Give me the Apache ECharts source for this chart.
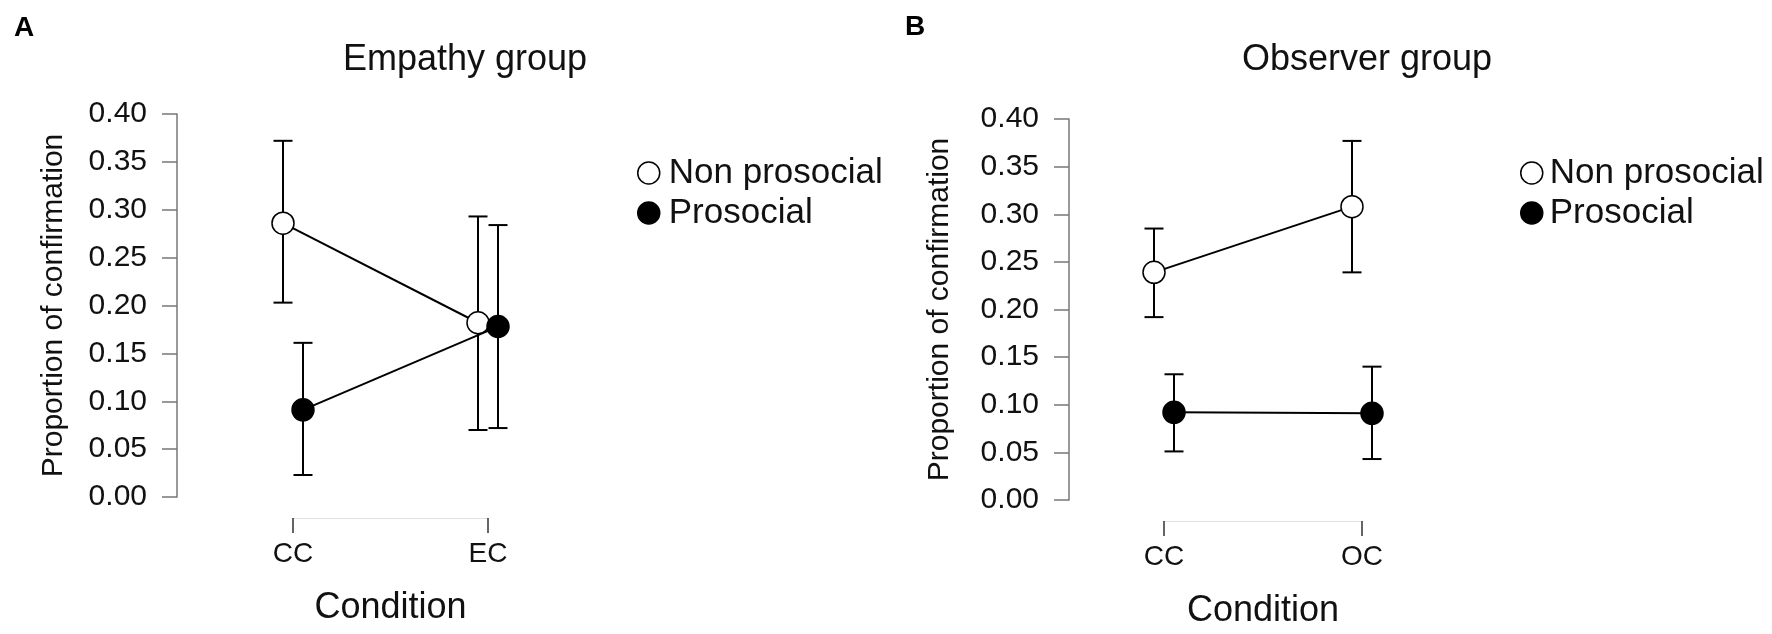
<!DOCTYPE html>
<html>
<head>
<meta charset="utf-8">
<title>Proportion of confirmation</title>
<script src="https://cdn.jsdelivr.net/npm/echarts@6/dist/echarts.min.js"></script>
<style>
  html, body { margin: 0; padding: 0; background: #fff; }
  #chart { width: 1772px; height: 634px; }
</style>
</head>
<body>
<div id="chart"></div>
<script>
// conditions on each panel
const empathyConditions = ['CC', 'EC'];
const observerConditions = ['CC', 'OC'];

// empathy group (panel A)
const empathyNonMean = [0.286, 0.182];
const empathyNonLow = [0.203, 0.070];
const empathyNonHigh = [0.372, 0.293];
const empathyProMean = [0.091, 0.178];
const empathyProLow = [0.023, 0.072];
const empathyProHigh = [0.161, 0.284];

// observer group (panel B)
const observerNonMean = [0.239, 0.308];
const observerNonLow = [0.192, 0.239];
const observerNonHigh = [0.285, 0.377];
const observerProMean = [0.092, 0.091];
const observerProLow = [0.051, 0.043];
const observerProHigh = [0.132, 0.140];

const yMin = 0;
const yMax = 0.4;
const yStep = 0.05;

const FONT = "'Liberation Sans', Arial, sans-serif";

function build(mean, low, high) {
  return mean.map((m, i) => [i, m, low[i], high[i]]);
}

// draws error bar, connecting segment and the point, dodged a few px sideways
function makeRender(dodge, filled, means) {
  return function (params, api) {
    const i = params.dataIndex;
    const x = api.value(0);
    const p = api.coord([x, api.value(1)]);
    const lo = api.coord([x, api.value(2)]);
    const hi = api.coord([x, api.value(3)]);
    const cx = p[0] + dodge;
    const cap = 9.5;
    const stroke = { stroke: '#000', lineWidth: 2 };
    const children = [];
    if (i < means.length - 1) {
      const q = api.coord([i + 1, means[i + 1]]);
      children.push({ type: 'line', z2: 1, shape: { x1: cx, y1: p[1], x2: q[0] + dodge, y2: q[1] }, style: stroke });
    }
    children.push({ type: 'line', z2: 1, shape: { x1: cx, y1: lo[1], x2: cx, y2: hi[1] }, style: stroke });
    children.push({ type: 'line', z2: 1, shape: { x1: cx - cap, y1: lo[1], x2: cx + cap, y2: lo[1] }, style: stroke });
    children.push({ type: 'line', z2: 1, shape: { x1: cx - cap, y1: hi[1], x2: cx + cap, y2: hi[1] }, style: stroke });
    children.push({
      type: 'circle', z2: 10,
      shape: { cx: cx, cy: p[1], r: 11 },
      style: { fill: filled ? '#000' : '#fff', stroke: '#000', lineWidth: 1.5 }
    });
    return { type: 'group', children: children };
  };
}

function xAxisFor(cats, gridIndex) {
  return {
    type: 'category',
    gridIndex: gridIndex,
    data: cats,
    boundaryGap: false,
    offset: 21,
    axisLine: { onZero: false, lineStyle: { color: '#e0e0e0', width: 1 } },
    axisTick: { length: 15, lineStyle: { color: '#333', width: 1.5 } },
    axisLabel: { interval: 0, margin: 22, color: '#111', fontSize: 28, fontFamily: FONT },
    name: 'Condition',
    nameLocation: 'middle',
    nameGap: 72,
    nameTextStyle: { color: '#111', fontSize: 36, fontFamily: FONT },
    splitLine: { show: false }
  };
}

function yAxisFor(gridIndex, offset, nameGap) {
  return {
    type: 'value',
    gridIndex: gridIndex,
    min: yMin,
    max: yMax,
    interval: yStep,
    offset: offset,
    axisLine: { show: true, lineStyle: { color: '#777', width: 1.5 } },
    axisTick: { show: true, length: 15, lineStyle: { color: '#777', width: 1.5 } },
    axisLabel: { margin: 30, color: '#111', fontSize: 30, fontFamily: FONT, formatter: v => v.toFixed(2) },
    splitLine: { show: false },
    name: 'Proportion of confirmation',
    nameLocation: 'middle',
    nameRotate: 90,
    nameGap: nameGap,
    nameTextStyle: { color: '#111', fontSize: 30, fontFamily: FONT }
  };
}

function legendFor(left, top, textPad) {
  return {
    left: left,
    top: top,
    orient: 'vertical',
    itemWidth: 22,
    itemHeight: 22,
    itemGap: 4,
    selectedMode: false,
    textStyle: { color: '#111', fontSize: 35, lineHeight: 36, fontFamily: FONT, padding: [0, 0, 0, textPad] },
    data: [
      { name: 'Non prosocial', icon: 'circle', itemStyle: { color: '#fff', borderColor: '#000', borderWidth: 1.5 } },
      { name: 'Prosocial', icon: 'circle', itemStyle: { color: '#000', borderColor: '#000', borderWidth: 1.5 } }
    ]
  };
}

const chart = echarts.init(document.getElementById('chart'));

chart.setOption({
  backgroundColor: '#fff',
  animation: false,
  grid: [
    { left: 293, top: 114, width: 195, height: 383 },
    { left: 1164, top: 119, width: 198, height: 383 }
  ],
  xAxis: [xAxisFor(empathyConditions, 0), xAxisFor(observerConditions, 1)],
  yAxis: [yAxisFor(0, 116, 108), yAxisFor(1, 95, 114)],
  legend: [legendFor(632, 150, 4), legendFor(1515, 150, 2)],
  graphic: [
    { type: 'text', x: 24, y: 28, style: { text: 'A', font: "bold 28px " + FONT, fill: '#000', textAlign: 'center', textVerticalAlign: 'middle' } },
    { type: 'text', x: 915, y: 27, style: { text: 'B', font: "bold 28px " + FONT, fill: '#000', textAlign: 'center', textVerticalAlign: 'middle' } },
    { type: 'text', x: 465, y: 60, style: { text: 'Empathy group', font: "36px " + FONT, fill: '#111', textAlign: 'center', textVerticalAlign: 'middle' } },
    { type: 'text', x: 1367, y: 60, style: { text: 'Observer group', font: "36px " + FONT, fill: '#111', textAlign: 'center', textVerticalAlign: 'middle' } }
  ],
  series: [
    {
      type: 'custom', name: 'Non prosocial', xAxisIndex: 0, yAxisIndex: 0,
      data: build(empathyNonMean, empathyNonLow, empathyNonHigh),
      encode: { x: 0, y: 1 },
      renderItem: makeRender(-10, false, empathyNonMean)
    },
    {
      type: 'custom', name: 'Prosocial', xAxisIndex: 0, yAxisIndex: 0,
      data: build(empathyProMean, empathyProLow, empathyProHigh),
      encode: { x: 0, y: 1 },
      renderItem: makeRender(10, true, empathyProMean)
    },
    {
      type: 'custom', name: 'Non prosocial', xAxisIndex: 1, yAxisIndex: 1,
      data: build(observerNonMean, observerNonLow, observerNonHigh),
      encode: { x: 0, y: 1 },
      renderItem: makeRender(-10, false, observerNonMean)
    },
    {
      type: 'custom', name: 'Prosocial', xAxisIndex: 1, yAxisIndex: 1,
      data: build(observerProMean, observerProLow, observerProHigh),
      encode: { x: 0, y: 1 },
      renderItem: makeRender(10, true, observerProMean)
    }
  ]
});
</script>
</body>
</html>
